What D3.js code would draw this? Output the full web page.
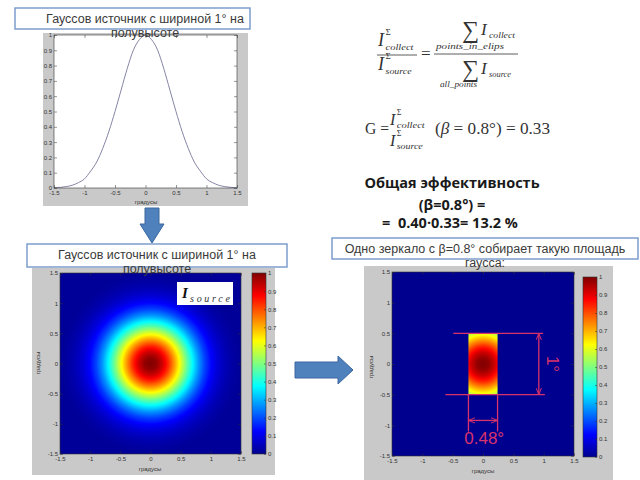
<!DOCTYPE html>
<html>
<head>
<meta charset="utf-8">
<script src="https://cdn.jsdelivr.net/npm/d3@7"></script>
<style>
  body { margin: 0; background: #fff; }
  svg { display: block; }
  text { white-space: pre; }
</style>
</head>
<body>
<svg id="slide" width="640" height="480"></svg>
<script>
// 1-D source profile (top left chart), degrees vs normalised intensity
const profileX = [-1.5, -1.4, -1.3, -1.2, -1.1, -1.0, -0.9, -0.8, -0.7, -0.6, -0.5, -0.4, -0.3, -0.2, -0.1,
  0, 0.1, 0.2, 0.3, 0.4, 0.5, 0.6, 0.7, 0.8, 0.9, 1.0, 1.1, 1.2, 1.3, 1.4, 1.5];
const profileY = [0.002, 0.004, 0.009, 0.018, 0.035, 0.06, 0.11, 0.17, 0.26, 0.37, 0.5, 0.64, 0.78, 0.9, 0.97,
  1.0, 0.97, 0.9, 0.78, 0.64, 0.5, 0.37, 0.26, 0.17, 0.11, 0.06, 0.035, 0.018, 0.009, 0.004, 0.002];

// radial intensity of the 2-D spot (heatmaps)
const radiusDeg = [0, 0.1, 0.2, 0.3, 0.4, 0.5, 0.6, 0.7, 0.8, 0.9, 1.0, 1.1, 1.2, 1.3, 1.4, 1.5];
const radialVal = [1.0, 0.98, 0.92, 0.83, 0.72, 0.6, 0.48, 0.37, 0.27, 0.19, 0.13, 0.084, 0.053, 0.032, 0.018, 0.01];

// mirror footprint (degrees)
const mirrorWidth = 0.48;
const mirrorHeight = 1.0;

// tick labels
const degTicks = [-1.5, -1, -0.5, 0, 0.5, 1, 1.5];
const unitTicks = [0, 0.1, 0.2, 0.3, 0.4, 0.5, 0.6, 0.7, 0.8, 0.9, 1];

// jet colormap
const jetPos = [0, 0.125, 0.375, 0.625, 0.875, 1];
const jetCol = ['#00008f', '#0000ff', '#00ffff', '#ffff00', '#ff0000', '#800000'];

const svg = d3.select('#slide');
const defs = svg.append('defs');
const jet = d3.scaleLinear().domain(jetPos).range(jetCol).clamp(true);
const radial = d3.scaleLinear().domain(radiusDeg).range(radialVal).clamp(true);

const SANS = 'Liberation Sans, Arial, sans-serif';
const SERIF = 'Liberation Serif, Times New Roman, serif';
const fmt = d => String(d);
const MAGENTA = '#d8336b';
const GRAY = '#c9c9c9';

function styleAxis(sel) {
  sel.select('.domain').remove();
  sel.attr('font-size', 6).attr('font-family', SANS).style('color', '#333');
  sel.selectAll('line').attr('stroke-width', 0.5);
}

// inward ticks on all four sides, labels left and bottom (matlab look)
function drawAxes(g, x, y, xt, yt) {
  const [y0, y1] = y.range();
  const [x0, x1] = x.range();
  g.append('g').attr('transform', `translate(0,${y0})`)
    .call(d3.axisBottom(x).tickValues(xt).tickSize(-3).tickPadding(3).tickFormat(fmt)).call(styleAxis);
  g.append('g').attr('transform', `translate(0,${y1})`)
    .call(d3.axisTop(x).tickValues(xt).tickSize(-3).tickFormat('')).call(styleAxis);
  g.append('g').attr('transform', `translate(${x0},0)`)
    .call(d3.axisLeft(y).tickValues(yt).tickSize(-3).tickPadding(2).tickFormat(fmt)).call(styleAxis);
  g.append('g').attr('transform', `translate(${x1},0)`)
    .call(d3.axisRight(y).tickValues(yt).tickSize(-3).tickFormat('')).call(styleAxis);
  g.append('rect').attr('x', x0).attr('y', y1).attr('width', x1 - x0).attr('height', y0 - y1)
    .attr('fill', 'none').attr('stroke', '#333').attr('stroke-width', 0.6);
}

function axisLabel(g, x, y, rotate) {
  g.append('text').attr('transform', `translate(${x},${y}) rotate(${rotate})`)
    .attr('text-anchor', 'middle').attr('font-family', SANS).attr('font-size', 6).attr('fill', '#333')
    .text('градусы');
}

function colorbar(g, x0, x1, y0, y1, id) {
  const cy = d3.scaleLinear().domain([0, 1]).range([y0, y1]);
  const grad = defs.append('linearGradient').attr('id', id)
    .attr('gradientUnits', 'userSpaceOnUse').attr('x1', 0).attr('x2', 0).attr('y1', y0).attr('y2', y1);
  grad.selectAll('stop').data(jetPos).join('stop')
    .attr('offset', d => d).attr('stop-color', (d, i) => jetCol[i]);
  g.append('rect').attr('x', x0).attr('y', y1).attr('width', x1 - x0).attr('height', y0 - y1)
    .attr('fill', `url(#${id})`).attr('stroke', '#333').attr('stroke-width', 0.6);
  g.append('g').attr('transform', `translate(${x1},0)`)
    .call(d3.axisRight(cy).tickValues(unitTicks).tickSize(-2).tickPadding(2).tickFormat(fmt)).call(styleAxis);
}

function heatPanel(g, box, id) {
  const x = d3.scaleLinear().domain([-1.5, 1.5]).range([box.x0, box.x1]);
  const y = d3.scaleLinear().domain([-1.5, 1.5]).range([box.y0, box.y1]);
  const grad = defs.append('radialGradient').attr('id', id).attr('gradientUnits', 'userSpaceOnUse')
    .attr('cx', x(0)).attr('cy', y(0)).attr('r', x(1.5) - x(0));
  const n = 75;
  grad.selectAll('stop').data(d3.range(n + 1)).join('stop')
    .attr('offset', i => i / n).attr('stop-color', i => jet(radial(1.5 * i / n)));
  return { x, y, grad };
}

// ---------- panel 1 : line profile ----------
const p1 = svg.append('g');
p1.append('rect').attr('x', 43).attr('y', 33).attr('width', 205).attr('height', 173).attr('fill', GRAY);
const x1s = d3.scaleLinear().domain([-1.5, 1.5]).range([54, 237]);
const y1s = d3.scaleLinear().domain([0, 1]).range([188, 35]);
p1.append('rect').attr('x', 54).attr('y', 35).attr('width', 183).attr('height', 153).attr('fill', '#fff');
p1.append('path').datum(profileX.map((d, i) => [d, profileY[i]]))
  .attr('d', d3.line().x(d => x1s(d[0])).y(d => y1s(d[1])).curve(d3.curveMonotoneX))
  .attr('fill', 'none').attr('stroke', '#8585a5').attr('stroke-width', 1);
drawAxes(p1, x1s, y1s, degTicks, unitTicks);
axisLabel(p1, 146, 204, 0);

// ---------- panel 2 : full gaussian spot ----------
const p2 = svg.append('g');
p2.append('rect').attr('x', 32).attr('y', 268).attr('width', 243).attr('height', 207).attr('fill', GRAY);
const h2 = heatPanel(p2, { x0: 60, x1: 241, y0: 454, y1: 273 }, 'spot2');
p2.append('rect').attr('x', 60).attr('y', 273).attr('width', 181).attr('height', 181).attr('fill', 'url(#spot2)');
drawAxes(p2, h2.x, h2.y, degTicks, degTicks);
colorbar(p2, 252, 266, 454, 273, 'cb2');
axisLabel(p2, 150, 471, 0);
axisLabel(p2, 40, 363, -90);
p2.append('rect').attr('x', 177).attr('y', 282).attr('width', 56).attr('height', 23).attr('fill', '#fff');
p2.append('text').attr('x', 182).attr('y', 298).attr('font-family', SERIF).attr('font-size', 15)
  .attr('font-style', 'italic').attr('font-weight', 'bold').attr('fill', '#111').text('I');
p2.append('text').attr('x', 190).attr('y', 302).attr('font-family', SERIF).attr('font-size', 10)
  .attr('font-style', 'italic').attr('fill', '#333').attr('textLength', 40).text('source');

// ---------- panel 3 : part collected by one mirror ----------
const p3 = svg.append('g');
p3.append('rect').attr('x', 364).attr('y', 266).attr('width', 249).attr('height', 214).attr('fill', GRAY);
const h3 = heatPanel(p3, { x0: 392, x1: 574, y0: 456, y1: 272 }, 'spot3');
const X = h3.x, Y = h3.y;
p3.append('rect').attr('x', 392).attr('y', 272).attr('width', 182).attr('height', 184).attr('fill', jet(0));
p3.append('rect').attr('x', X(-mirrorWidth / 2)).attr('y', Y(mirrorHeight / 2))
  .attr('width', X(mirrorWidth / 2) - X(-mirrorWidth / 2)).attr('height', Y(-mirrorHeight / 2) - Y(mirrorHeight / 2))
  .attr('fill', 'url(#spot3)');
drawAxes(p3, X, Y, degTicks, degTicks);
colorbar(p3, 583, 597, 457, 277, 'cb3');
axisLabel(p3, 483, 473, 0);
axisLabel(p3, 373, 367, -90);

// dimension annotations
defs.append('marker').attr('id', 'arr').attr('viewBox', '0 0 10 10').attr('refX', 10).attr('refY', 5)
  .attr('markerWidth', 5).attr('markerHeight', 5).attr('orient', 'auto-start-reverse')
  .append('path').attr('d', 'M0,1 L10,5 L0,9').attr('fill', 'none').attr('stroke', MAGENTA).attr('stroke-width', 1.5);
const dim = p3.append('g').attr('stroke', MAGENTA).attr('stroke-width', 1.3).attr('fill', 'none');
const hw = mirrorWidth / 2, hh = mirrorHeight / 2;
dim.append('line').attr('x1', X(-0.49)).attr('x2', X(0.99)).attr('y1', Y(hh)).attr('y2', Y(hh));
dim.append('line').attr('x1', X(-0.62)).attr('x2', X(1.02)).attr('y1', Y(-hh)).attr('y2', Y(-hh));
dim.append('line').attr('x1', X(0.92)).attr('x2', X(0.92)).attr('y1', Y(hh)).attr('y2', Y(-hh))
  .attr('marker-start', 'url(#arr)').attr('marker-end', 'url(#arr)');
dim.append('line').attr('x1', X(-hw)).attr('x2', X(-hw)).attr('y1', Y(-hh)).attr('y2', Y(-1.1));
dim.append('line').attr('x1', X(hw)).attr('x2', X(hw)).attr('y1', Y(-hh)).attr('y2', Y(-1.1));
dim.append('line').attr('x1', X(-hw)).attr('x2', X(hw)).attr('y1', Y(-0.92)).attr('y2', Y(-0.92))
  .attr('marker-start', 'url(#arr)').attr('marker-end', 'url(#arr)');
p3.append('text').attr('transform', `translate(${X(1.05)},${Y(0)}) rotate(90)`)
  .attr('text-anchor', 'middle').attr('font-family', SANS).attr('font-size', 17).attr('fill', MAGENTA)
  .text(mirrorHeight.toFixed(0) + '°');
p3.append('text').attr('x', X(0.02)).attr('y', Y(-1.3))
  .attr('text-anchor', 'middle').attr('font-family', SANS).attr('font-size', 17).attr('fill', MAGENTA)
  .text(mirrorWidth + '°');

// ---------- arrows ----------
svg.append('path').attr('d', 'M145,208 H159 V224 H164 L152,243 L140,224 H145 Z')
  .attr('fill', '#4f81bd').attr('stroke', '#3a679e').attr('stroke-width', 1);
svg.append('path').attr('d', 'M295,362 H338 V356 L353,370 L338,384 V378 H295 Z')
  .attr('fill', '#4f81bd').attr('stroke', '#3a679e').attr('stroke-width', 1);

// ---------- caption boxes ----------
function caption(x, y, w, h, lines, cx) {
  svg.append('rect').attr('x', x).attr('y', y).attr('width', w).attr('height', h)
    .attr('fill', '#fff').attr('stroke', '#7396c8').attr('stroke-width', 1.4);
  lines.forEach((t, i) => {
    svg.append('text').attr('x', cx).attr('y', y + 14.5 + i * 14.5).attr('text-anchor', 'middle')
      .attr('font-family', SANS).attr('font-size', 12.5).attr('fill', '#3a3a3a').text(t);
  });
}
caption(15, 8, 235, 21, ['Гауссов источник с шириной 1° на', 'полувысоте'], 145);
caption(27, 244, 260, 23, ['Гауссов источник с шириной 1° на', 'полувысоте'], 157);
caption(332, 238, 306, 21, ['Одно зеркало с β=0.8° собирает такую площадь', 'гаусса:'], 485);

// ---------- formulas ----------
const fm = svg.append('g').attr('font-family', SERIF).attr('fill', '#333');
function itext(x, y, size, t, opts = {}) {
  const el = fm.append('text').attr('x', x).attr('y', y).attr('font-size', size)
    .attr('font-style', opts.upright ? 'normal' : 'italic').text(t);
  if (opts.len) el.attr('textLength', opts.len).attr('lengthAdjust', 'spacingAndGlyphs');
  return el;
}
function iSigma(x, y, size, sub) {
  itext(x, y, size, 'I');
  itext(x + size * 0.42, y - size * 0.62, size * 0.5, 'Σ', { upright: true });
  itext(x + size * 0.42, y + size * 0.2, size * 0.5, sub, { len: sub === 'collect' ? 28 : 26 });
}
// first formula
iSigma(378, 46, 18, 'collect');
fm.append('line').attr('x1', 377).attr('x2', 417).attr('y1', 55).attr('y2', 55).attr('stroke', '#333').attr('stroke-width', 0.8);
iSigma(378, 70, 18, 'source');
itext(421, 59, 17, '=', { upright: true });
itext(462, 38, 24, '∑', { upright: true });
itext(481, 35, 17, 'I');
itext(489, 38, 8, 'collect', { len: 26 });
itext(436, 49, 8, 'points_in_elips', { len: 68 });
fm.append('line').attr('x1', 434).attr('x2', 518).attr('y1', 54).attr('y2', 54).attr('stroke', '#333').attr('stroke-width', 0.8);
itext(462, 77, 24, '∑', { upright: true });
itext(481, 74, 17, 'I');
itext(489, 77, 8, 'source', { len: 22 });
itext(440, 87, 8, 'all_points', { len: 37 });
// second formula
itext(365, 134, 17, 'G =', { upright: true, len: 24 });
iSigma(390, 125, 16, 'collect');
iSigma(390, 146, 16, 'source');
itext(435, 134, 17, '(β = 0.8°) = 0.33', { upright: true, len: 115 });
fm.selectAll('text').filter(function () { return this.textContent === '(β = 0.8°) = 0.33'; })
  .text('').call(t => {
    t.append('tspan').text('(');
    t.append('tspan').attr('font-style', 'italic').text('β');
    t.append('tspan').text(' = 0.8°) = 0.33');
  });

// ---------- efficiency text ----------
const eff = svg.append('g').attr('font-family', 'Open Sans, Liberation Sans, sans-serif')
  .attr('font-weight', 'bold').attr('font-size', 14.5).attr('fill', '#1a1a1a').attr('text-anchor', 'middle');
eff.append('text').attr('x', 452).attr('y', 188).text('Общая эффективность');
eff.append('text').attr('x', 452).attr('y', 210).text('(β=0.8°) =');
eff.append('text').attr('x', 450).attr('y', 228).text('=  0.40·0.33= 13.2 %');
</script>
</body>
</html>
